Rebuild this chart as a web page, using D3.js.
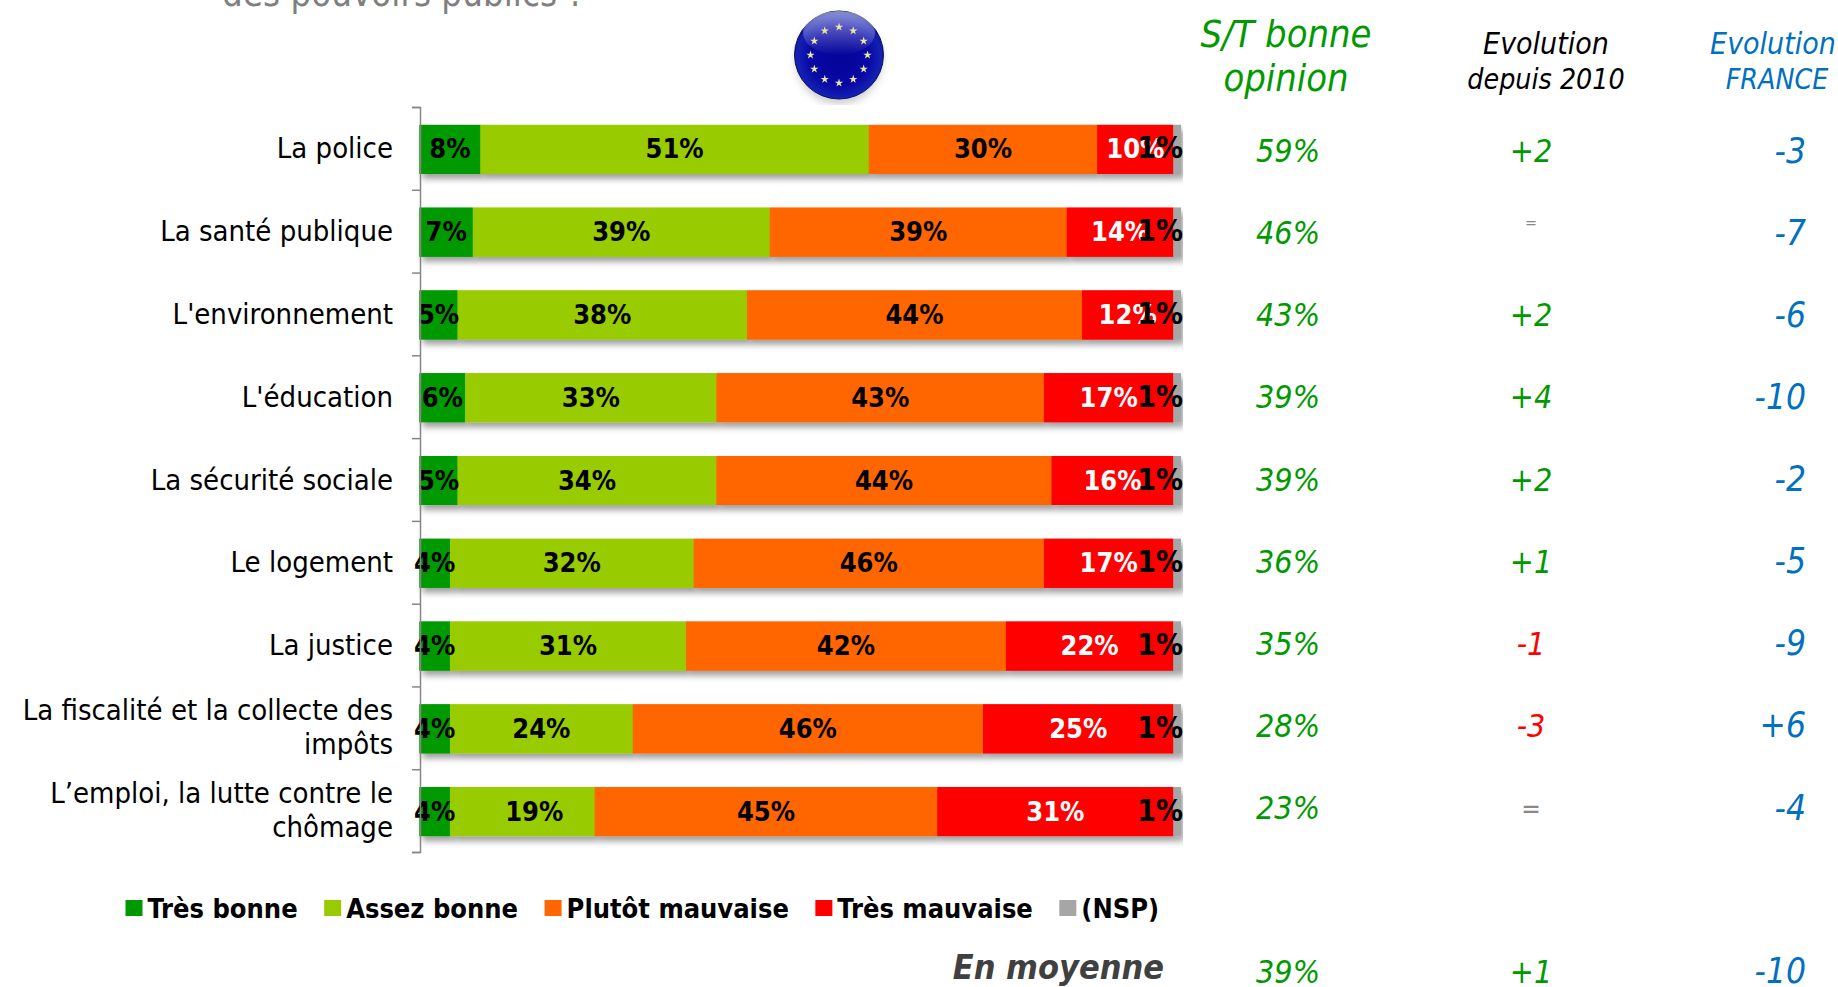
<!DOCTYPE html>
<html><head><meta charset="utf-8">
<script src="https://cdn.jsdelivr.net/npm/d3@7/dist/d3.min.js"></script>
<style>html,body{margin:0;padding:0;background:#fff;overflow:hidden}svg{display:block}text{font-family:"DejaVu Sans Condensed","DejaVu Sans",sans-serif}</style>
</head><body><svg id="c" width="1838" height="987"></svg>
<script>
const categories=[["La police"],["La santé publique"],["L'environnement"],["L'éducation"],["La sécurité sociale"],["Le logement"],["La justice"],["La fiscalité et la collecte des","impôts"],["L’emploi, la lutte contre le","chômage"]];
const seriesNames=["Très bonne","Assez bonne","Plutôt mauvaise","Très mauvaise","(NSP)"];
const tresBonne=[8,7,5,6,5,4,4,4,4];
const assezBonne=[51,39,38,33,34,32,31,24,19];
const plutotMauvaise=[30,39,44,43,44,46,42,46,45];
const tresMauvaise=[10,14,12,17,16,17,22,25,31];
const nsp=[1,1,1,1,1,1,1,1,1];
const seriesColors=["#009900","#99CC00","#FF6600","#FF0000","#A6A6A6"];
const labelColors=["#000","#000","#000","#fff","#000"];
const bonneOpinion=["59%","46%","43%","39%","39%","36%","35%","28%","23%"];
const evolution2010=["+2","=","+2","+4","+2","+1","-1","-3","="];
const evolutionFrance=["-3","-7","-6","-10","-2","-5","-9","+6","-4"];
const moyenne=["39%","+1","-10"];

const svg=d3.select("#c");
const defs=svg.append("defs");
const f=defs.append("filter").attr("id","sh").attr("x","-20%").attr("y","-20%").attr("width","140%").attr("height","160%");
f.append("feDropShadow").attr("dx",3).attr("dy",5).attr("stdDeviation",3).attr("flood-color","#000").attr("flood-opacity",.38);
const bl=defs.append("filter").attr("id","bl").attr("x","-30%").attr("y","-30%").attr("width","160%").attr("height","160%");
bl.append("feGaussianBlur").attr("stdDeviation",4);
const bs=defs.append("filter").attr("id","bs").attr("x","-30%").attr("y","-30%").attr("width","160%").attr("height","160%");
bs.append("feGaussianBlur").attr("stdDeviation",.5);
const rg=defs.append("radialGradient").attr("id","ball").attr("cx","50%").attr("cy","52%").attr("r","55%");
[[0,"#05059a"],[.6,"#0808a4"],[.85,"#1420b4"],[1,"#0a1070"]].forEach(d=>rg.append("stop").attr("offset",d[0]).attr("stop-color",d[1]));
const hg=defs.append("linearGradient").attr("id","hl").attr("x1",0).attr("x2",0).attr("y1",0).attr("y2",1);
hg.append("stop").attr("offset",0).attr("stop-color","#fff").attr("stop-opacity",.5);
hg.append("stop").attr("offset",1).attr("stop-color","#fff").attr("stop-opacity",0);
defs.append("clipPath").attr("id","flagclip").append("rect").attr("x",780).attr("y",0).attr("width",120).attr("height",105);

const x=d3.scaleLinear().domain([0,100]).range([419.5,1181]);
const idx=d3.range(categories.length);
const y=d3.scaleBand().domain(idx).range([108,853]).paddingInner(.408).paddingOuter(.204);
const colY=d3.scalePoint().domain(idx).range([162,819]);
const rows=idx.map(i=>[tresBonne[i],assezBonne[i],plutotMauvaise[i],tresMauvaise[i],nsp[i]]);
const stack=rows.map(r=>{let c=0;return r.map((v,k)=>{const d={k,v,x0:c,x1:c+v};c+=v;return d;});});
const cy=i=>y(i)+y.bandwidth()/2;

// title fragment
svg.append("text").attr("x",222).attr("y",6).attr("font-size",36.4).attr("fill","#7f7f7f").text("des pouvoirs publics ?");

// flag
const flag=svg.append("g").attr("clip-path","url(#flagclip)");
flag.append("ellipse").attr("cx",839).attr("cy",60).attr("rx",43).attr("ry",44).attr("fill","#888").attr("opacity",.45).attr("filter","url(#bl)");
flag.append("ellipse").attr("cx",839).attr("cy",55).attr("rx",44.5).attr("ry",44).attr("fill","url(#ball)").attr("stroke","#0a1060").attr("stroke-width",1);
flag.append("ellipse").attr("cx",839).attr("cy",33).attr("rx",36).attr("ry",22).attr("fill","url(#hl)");
flag.selectAll("path.star").data(d3.range(12)).join("path").attr("class","star")
 .attr("d",d3.symbol(d3.symbolStar,22))
 .attr("fill","#e8e6a0").attr("filter","url(#bs)")
 .attr("transform",d=>`translate(${839+28.5*Math.sin(d*Math.PI/6)},${55-28*Math.cos(d*Math.PI/6)})`);

// bars
const rowG=svg.selectAll("g.row").data(stack).join("g").attr("class","row");
rowG.selectAll("rect").data((d,i)=>d.map(s=>({...s,i}))).join("rect")
 .attr("x",d=>x(d.x0)).attr("y",d=>y(d.i)).attr("width",d=>x(d.x1)-x(d.x0)).attr("height",y.bandwidth())
 .attr("fill",d=>seriesColors[d.k]).attr("filter","url(#sh)");
// redraw flat segments above neighbouring shadows
rowG.selectAll("rect.top").data((d,i)=>d.map(s=>({...s,i}))).join("rect").attr("class","top")
 .attr("x",d=>x(d.x0)).attr("y",d=>y(d.i)).attr("width",d=>x(d.x1)-x(d.x0)).attr("height",y.bandwidth())
 .attr("fill",d=>seriesColors[d.k]);
// value labels: the NSP label sits against the bar end, and the last row's second label is pushed right as in the source
rowG.selectAll("text").data((d,i)=>d.map(s=>({...s,i}))).join("text")
 .attr("x",d=>d.k===4?1183:(x(d.x0)+x(d.x1))/2+(d.i===8&&d.k===1?12:0)).attr("y",d=>cy(d.i)+9)
 .attr("text-anchor",d=>d.k===4?"end":"middle").attr("font-size",d=>d.k===4?30:27).attr("font-weight","bold")
 .attr("fill",d=>labelColors[d.k]).text(d=>d.v+"%");

// axis
const ax=d3.scaleLinear().domain([0,categories.length]).range([107,852]);
const axisG=svg.append("g").attr("transform","translate(420,0)").call(d3.axisLeft(ax).tickValues(d3.range(categories.length+1)).tickSize(8).tickFormat(""));
axisG.selectAll("path,line").attr("stroke","#868686").attr("stroke-width",1.5);

// category labels
const cat=svg.selectAll("text.cat").data(categories).join("text").attr("class","cat")
 .attr("text-anchor","end").attr("font-size",29).attr("fill","#000");
cat.each(function(lines,i){
  const t=d3.select(this);
  lines.forEach((l,j)=>t.append("tspan").attr("x",393).attr("y",cy(i)+(lines.length>1?(j===0?-9:25):9)).text(l));
});

// headers
function hdr(cx,yy,size,col,txt){svg.append("text").attr("x",cx).attr("y",yy).attr("text-anchor","middle").attr("font-size",size).attr("font-style","italic").attr("fill",col).text(txt);}
hdr(1286,47,37.8,"#009900","S/T bonne");hdr(1286,91,37.8,"#009900","opinion");
hdr(1546,54,30,"#000","Evolution");hdr(1546,89,28.3,"#000","depuis 2010");
hdr(1773,54,30,"#0070C0","Evolution");hdr(1777,89,28.3,"#0070C0","FRANCE");

// columns
const evoColor=v=>v==="="?"#888":(v[0]==="+"?"#009900":"#FF0000");
svg.selectAll("text.op").data(bonneOpinion).join("text").attr("class","op").attr("x",1288).attr("y",(d,i)=>colY(i))
 .attr("text-anchor","middle").attr("font-size",32).attr("font-style","italic").attr("fill","#009900").text(d=>d);
svg.selectAll("text.ev").data(evolution2010).join("text").attr("class","ev").attr("x",1531)
 .attr("y",(d,i)=>colY(i)-(d==="="?(i===1?16:1.5):0)).attr("text-anchor","middle")
 .attr("font-size",(d,i)=>d==="="?(i===1?16:26):32).attr("font-style","italic").attr("fill",evoColor).text(d=>d);
svg.selectAll("text.fr").data(evolutionFrance).join("text").attr("class","fr").attr("x",1806).attr("y",(d,i)=>colY(i)+0.5)
 .attr("text-anchor","end").attr("font-size",35).attr("font-style","italic").attr("fill","#0070C0").text(d=>d);

// legend
let lx=125.5;
const leg=svg.append("g");
seriesNames.forEach((n,k)=>{
  leg.append("rect").attr("x",lx).attr("y",900).attr("width",17).attr("height",16).attr("fill",seriesColors[k]);
  const t=leg.append("text").attr("x",lx+22).attr("y",918).attr("font-size",27).attr("font-weight","bold").attr("fill","#000").text(n);
  lx+=22+t.node().getComputedTextLength()+26.5;
});

// average
svg.append("text").attr("x",1164).attr("y",979).attr("text-anchor","end").attr("font-size",34).attr("font-weight","bold").attr("font-style","italic").attr("fill","#404040").text("En moyenne");
svg.append("text").attr("x",1288).attr("y",983).attr("text-anchor","middle").attr("font-size",32).attr("font-style","italic").attr("fill","#009900").text(moyenne[0]);
svg.append("text").attr("x",1531).attr("y",983).attr("text-anchor","middle").attr("font-size",32).attr("font-style","italic").attr("fill","#009900").text(moyenne[1]);
svg.append("text").attr("x",1806).attr("y",983).attr("text-anchor","end").attr("font-size",35).attr("font-style","italic").attr("fill","#0070C0").text(moyenne[2]);
</script></body></html>
